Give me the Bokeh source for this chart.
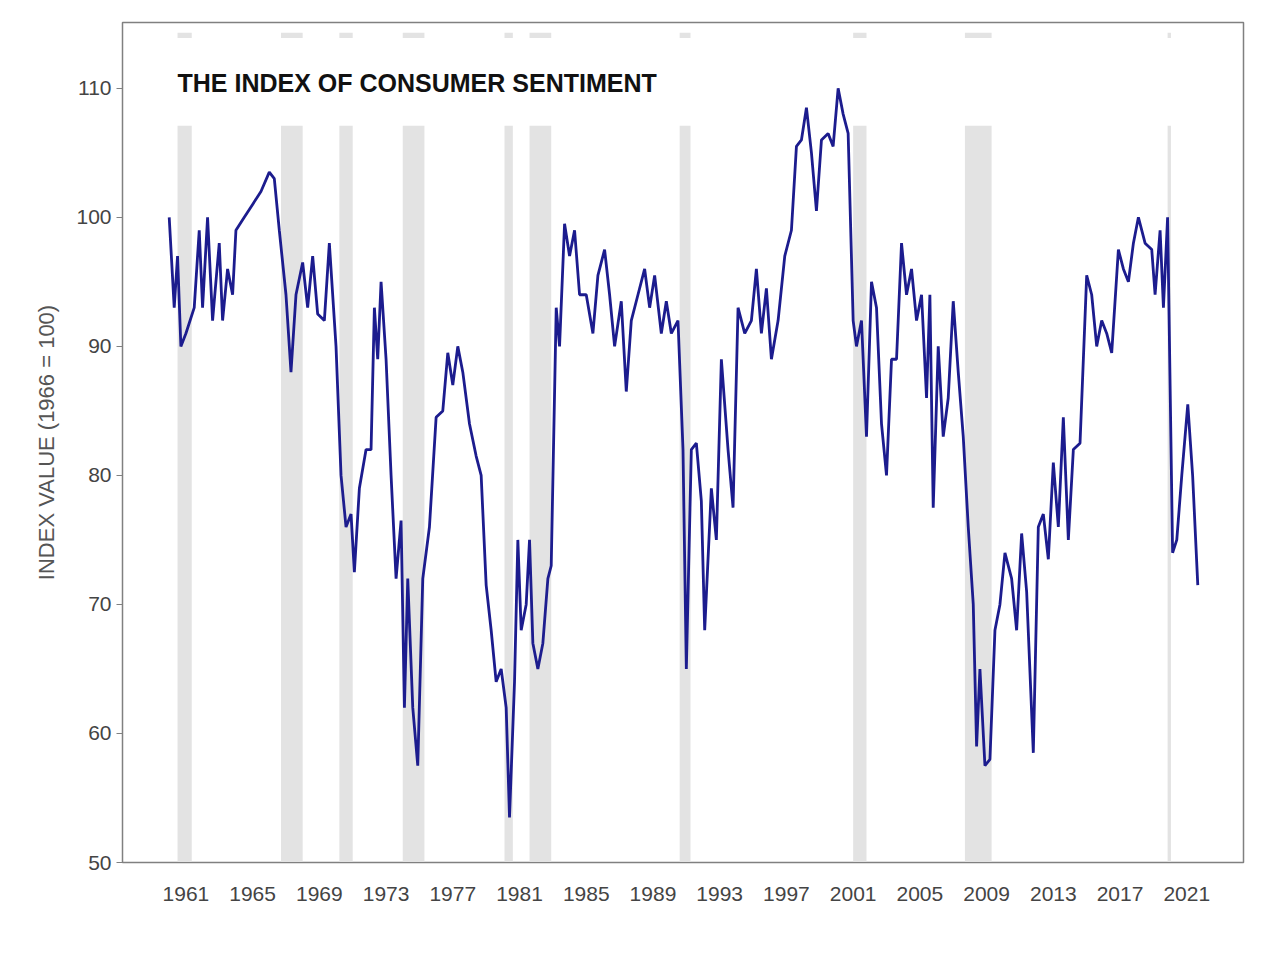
from bokeh.plotting import figure
from bokeh.models import FixedTicker, Range1d
from bokeh.embed import file_html
from bokeh.resources import INLINE

# recession bands (start, end) in years
rec_start = [1960.5, 1966.7, 1970.2, 1974.0, 1980.1, 1981.6, 1990.6, 2001.0, 2007.7, 2019.85]
rec_end = [1961.35, 1968.0, 1971.0, 1975.3, 1980.6, 1982.9, 1991.25, 2001.8, 2009.3, 2020.05]

years = [1960.0, 1960.3, 1960.5, 1960.7, 1961.0, 1961.5, 1961.8, 1962.0, 1962.3, 1962.6, 1963.0, 1963.2, 1963.5, 1963.8,
         1964.0, 1964.5, 1965.0, 1965.5, 1966.0, 1966.3, 1966.6, 1967.0, 1967.3, 1967.6, 1968.0, 1968.3, 1968.6, 1968.9,
         1969.3, 1969.6, 1970.0, 1970.3, 1970.6, 1970.9, 1971.1, 1971.4, 1971.8, 1972.1, 1972.3, 1972.5, 1972.7, 1973.0,
         1973.3, 1973.6, 1973.9, 1974.1, 1974.3, 1974.6, 1974.9, 1975.2, 1975.6, 1976.0, 1976.4, 1976.7, 1977.0, 1977.3,
         1977.6, 1978.0, 1978.4, 1978.7, 1979.0, 1979.3, 1979.6, 1979.9, 1980.2, 1980.4, 1980.7, 1980.9, 1981.1, 1981.4,
         1981.6, 1981.8, 1982.1, 1982.4, 1982.7, 1982.9, 1983.2, 1983.4, 1983.7, 1984.0, 1984.3, 1984.6, 1985.0, 1985.4,
         1985.7, 1986.1, 1986.4, 1986.7, 1987.1, 1987.4, 1987.7, 1988.1, 1988.5, 1988.8, 1989.1, 1989.5, 1989.8, 1990.1,
         1990.5, 1990.8, 1991.0, 1991.3, 1991.6, 1991.9, 1992.1, 1992.5, 1992.8, 1993.1, 1993.5, 1993.8, 1994.1, 1994.5,
         1994.9, 1995.2, 1995.5, 1995.8, 1996.1, 1996.5, 1996.9, 1997.3, 1997.6, 1997.9, 1998.2, 1998.5, 1998.8, 1999.1,
         1999.5, 1999.8, 2000.1, 2000.4, 2000.7, 2001.0, 2001.2, 2001.5, 2001.8, 2002.1, 2002.4, 2002.7, 2003.0, 2003.3,
         2003.6, 2003.9, 2004.2, 2004.5, 2004.8, 2005.1, 2005.4, 2005.6, 2005.8, 2006.1, 2006.4, 2006.7, 2007.0, 2007.3,
         2007.6, 2007.9, 2008.2, 2008.4, 2008.6, 2008.9, 2009.2, 2009.5, 2009.8, 2010.1, 2010.5, 2010.8, 2011.1, 2011.4,
         2011.8, 2012.1, 2012.4, 2012.7, 2013.0, 2013.3, 2013.6, 2013.9, 2014.2, 2014.6, 2015.0, 2015.3, 2015.6, 2015.9,
         2016.2, 2016.5, 2016.9, 2017.2, 2017.5, 2017.8, 2018.1, 2018.5, 2018.9, 2019.1, 2019.4, 2019.6, 2019.85, 2020.15,
         2020.4, 2020.7, 2021.06, 2021.35, 2021.66]
sentiment = [100, 93, 97, 90, 91, 93, 99, 93, 100, 92, 98, 92, 96, 94,
             99, 100, 101, 102, 103.5, 103, 99, 94, 88, 94, 96.5, 93, 97, 92.5,
             92, 98, 90, 80, 76, 77, 72.5, 79, 82, 82, 93, 89, 95, 89,
             80, 72, 76.5, 62, 72, 62, 57.5, 72, 76, 84.5, 85, 89.5, 87, 90,
             88, 84, 81.5, 80, 71.5, 68, 64, 65, 62, 53.5, 64, 75, 68, 70,
             75, 67, 65, 67, 72, 73, 93, 90, 99.5, 97, 99, 94, 94, 91,
             95.5, 97.5, 94, 90, 93.5, 86.5, 92, 94, 96, 93, 95.5, 91, 93.5, 91,
             92, 82, 65, 82, 82.5, 78, 68, 79, 75, 89, 82, 77.5, 93, 91,
             92, 96, 91, 94.5, 89, 92, 97, 99, 105.5, 106, 108.5, 105, 100.5, 106,
             106.5, 105.5, 110, 108, 106.5, 92, 90, 92, 83, 95, 93, 84, 80, 89,
             89, 98, 94, 96, 92, 94, 86, 94, 77.5, 90, 83, 86, 93.5, 88,
             83, 76, 70, 59, 65, 57.5, 58, 68, 70, 74, 72, 68, 75.5, 71,
             58.5, 76, 77, 73.5, 81, 76, 84.5, 75, 82, 82.5, 95.5, 94, 90, 92,
             91, 89.5, 97.5, 96, 95, 98, 100, 98, 97.5, 94, 99, 93, 100, 74,
             75, 80, 85.5, 80, 71.5]

tick_years = list(range(1961, 2022, 4))
y_ticks = [50, 60, 70, 80, 90, 100, 110]

p = figure(width=1264, height=950, output_backend="svg", toolbar_location=None,
           x_range=Range1d(1957.2, 2024.4), y_range=Range1d(50, 115.1),
           min_border_left=122, min_border_right=21, min_border_top=22, min_border_bottom=88)
p.background_fill_color = "white"
p.outline_line_color = "#808080"
p.outline_line_width = 1.5
p.grid.visible = False

p.quad(left=rec_start, right=rec_end, bottom=50, top=107.1, color="#e3e3e3", line_color=None)
p.quad(left=rec_start, right=rec_end, bottom=113.9, top=114.3, color="#e3e3e3", line_color=None)
p.line(years, sentiment, color="#1c1c8e", line_width=2.8)

p.text(x=[1960.5], y=[110.4], text=["THE INDEX OF CONSUMER SENTIMENT"], text_font_size="25px",
       text_font_style="bold", text_color="#111111", text_baseline="middle")

p.xaxis.ticker = FixedTicker(ticks=tick_years)
p.yaxis.ticker = FixedTicker(ticks=y_ticks)
for ax in (p.xaxis[0], p.yaxis[0]):
    ax.major_label_text_font_size = "21px"
    ax.major_label_text_color = "#444444"
    ax.axis_line_color = "#808080"
    ax.minor_tick_line_color = None
    ax.major_tick_line_color = "#808080"
p.xaxis.major_tick_line_color = None
p.xaxis.major_label_standoff = 18
p.yaxis.major_tick_out = 6
p.yaxis.major_tick_in = 0
p.yaxis.axis_label = "INDEX VALUE (1966 = 100)"
p.yaxis.axis_label_text_font_size = "22px"
p.yaxis.axis_label_text_font_style = "normal"
p.yaxis.axis_label_text_color = "#555555"
p.yaxis.axis_label_standoff = 14

open("out.html", "w").write(file_html(p, INLINE))
